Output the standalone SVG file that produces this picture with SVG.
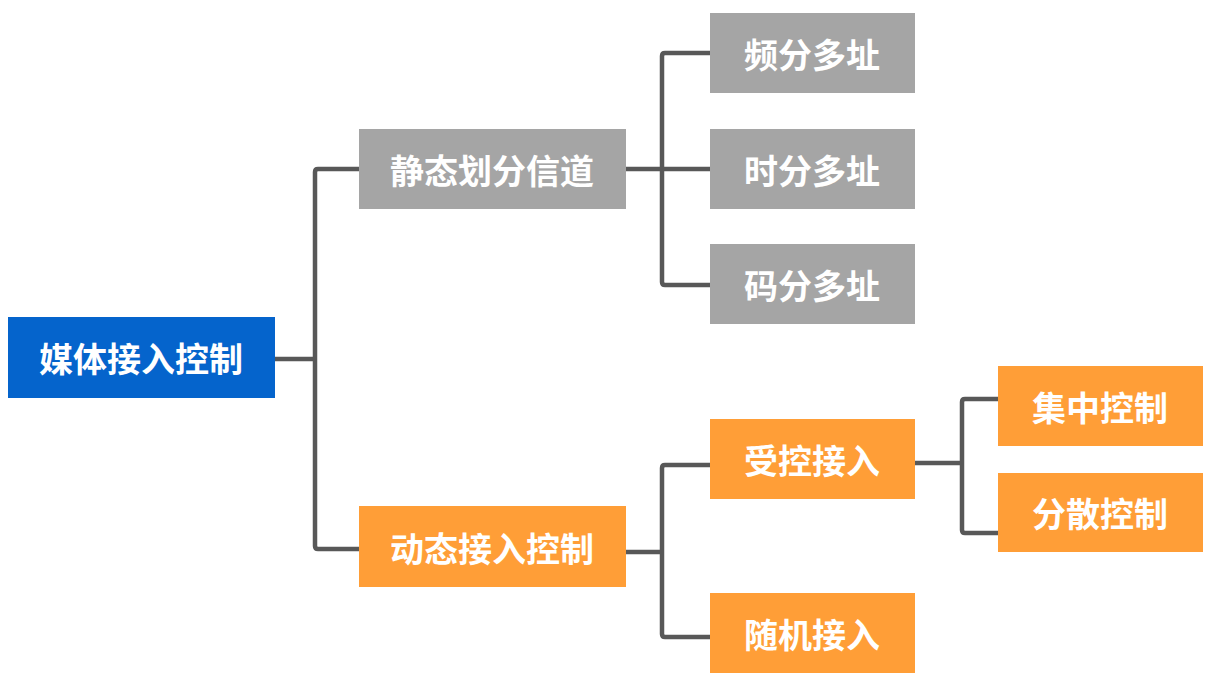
<svg xmlns="http://www.w3.org/2000/svg" width="1214" height="683" viewBox="0 0 1214 683">
<style>
.t{font-family:"Noto Sans CJK SC","Noto Sans",sans-serif;font-weight:bold;font-size:34px;fill:#fff;text-anchor:middle;dominant-baseline:central}
.c{fill:none;stroke:#585858;stroke-width:4.5;stroke-linejoin:round;stroke-linecap:butt}
.g{fill:#A5A5A5}.o{fill:#FF9E37}.b{fill:#0564CC}
</style>
<rect width="1214" height="683" fill="#fff"/>
<g id="connectors">
<path class="c" d="M275 359H315M359 169H318Q315 169 315 172V546Q315 549 318 549H359"/>
<path class="c" d="M626 169H710M710 53H665Q662 53 662 56V282Q662 285 665 285H710"/>
<path class="c" d="M626 552H662M710 465H665Q662 465 662 468V634Q662 637 665 637H710"/>
<path class="c" d="M914 463H962M998 399H965Q962 399 962 402V530Q962 533 965 533H998"/>
</g>
<g id="n_root"><rect class="b" x="8" y="317" width="267" height="81"/><text class="t" x="141" y="357">媒体接入控制</text></g>
<g id="n_static"><rect class="g" x="359" y="129" width="267" height="80"/><text class="t" x="492" y="169">静态划分信道</text></g>
<g id="n_dynamic"><rect class="o" x="359" y="506" width="267" height="81"/><text class="t" x="492" y="547">动态接入控制</text></g>
<g id="n_fdma"><rect class="g" x="710" y="13" width="205" height="80"/><text class="t" x="812" y="53">频分多址</text></g>
<g id="n_tdma"><rect class="g" x="710" y="129" width="205" height="80"/><text class="t" x="812" y="169">时分多址</text></g>
<g id="n_cdma"><rect class="g" x="710" y="244" width="205" height="80"/><text class="t" x="812" y="284">码分多址</text></g>
<g id="n_controlled"><rect class="o" x="710" y="419" width="205" height="80"/><text class="t" x="812" y="459">受控接入</text></g>
<g id="n_random"><rect class="o" x="710" y="593" width="205" height="80"/><text class="t" x="812" y="633">随机接入</text></g>
<g id="n_central"><rect class="o" x="998" y="366" width="205" height="80"/><text class="t" x="1100" y="406">集中控制</text></g>
<g id="n_distributed"><rect class="o" x="998" y="473" width="205" height="79"/><text class="t" x="1100" y="512">分散控制</text></g>
</svg>
